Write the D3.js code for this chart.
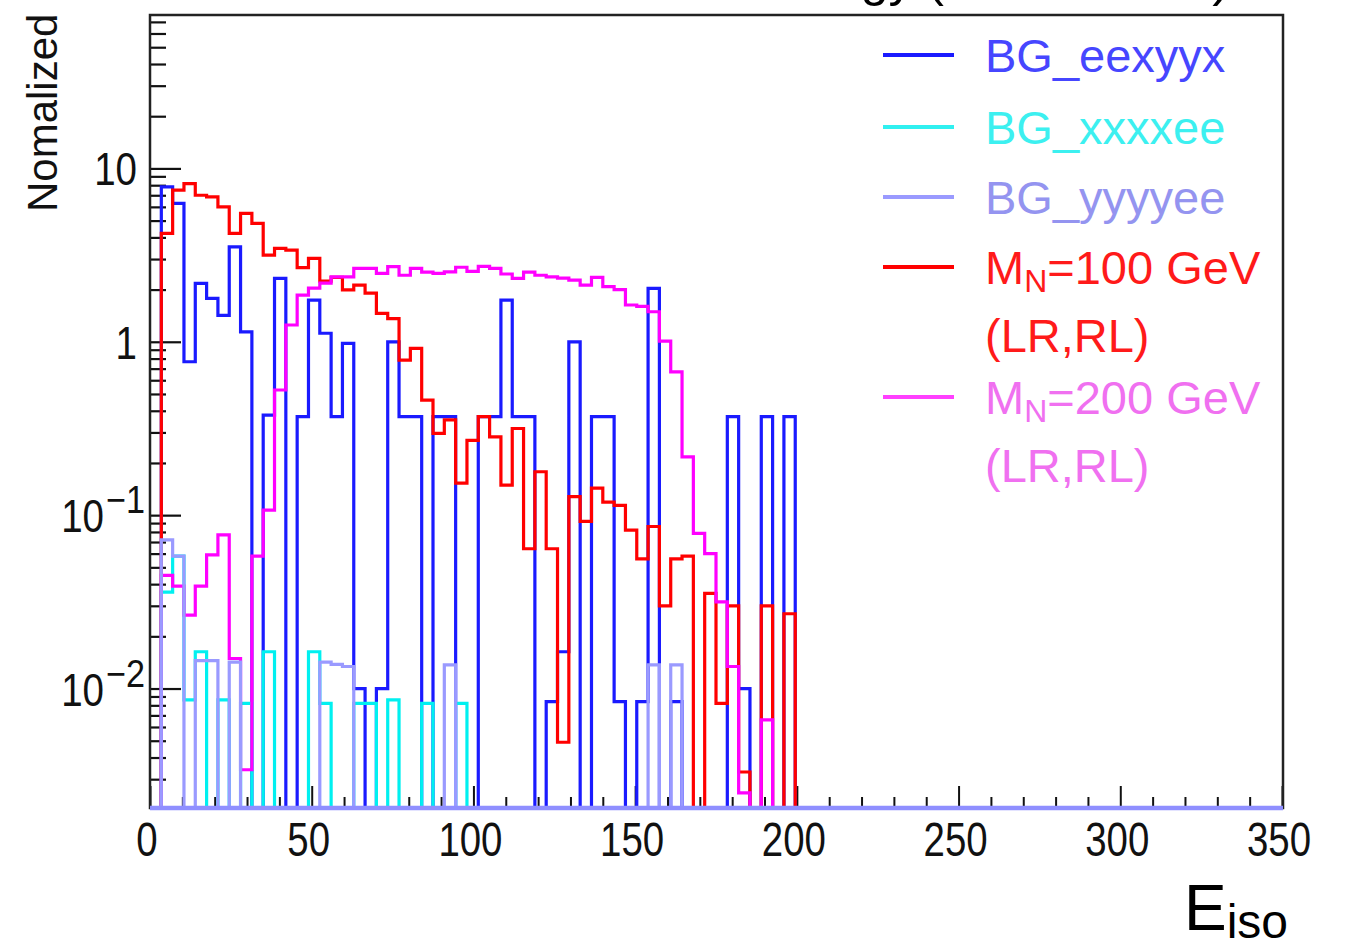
<!DOCTYPE html>
<html><head><meta charset="utf-8">
<script src="https://cdn.jsdelivr.net/npm/d3@7/dist/d3.min.js"></script>
<style>
body{margin:0;background:#fff;}
svg{display:block;}
text{font-family:"Liberation Sans",Arial,Helvetica,sans-serif;}
</style>
</head><body>
<svg id="c" width="1350" height="947"></svg>
<script>
// ---- data (bin contents, 3.5-wide bins starting at 0; missing bins are empty) ----
const xTickLabels = ["0","50","100","150","200","250","300","350"];
const xTickValues = [0,50,100,150,200,250,300,350];
const yMajorTicks = [0.01,0.1,1,10];
const yTickLabels = [["10","−2"],["10","−1"],["1",""],["10",""]];

const bgEexyyx = [0,7.83,6.28,0.767,2.17,1.78,1.42,3.53,1.14,0,
  0.378,2.32,0,0.37,1.74,1.12,0.37,0.98,0.01,0,
  0.01,1.0,0.37,0.37,0,0.37,0.37,0,0,0.37,
  0.37,1.74,0.37,0.37,0,0.0084,0.0163,1.0,0,0.37,
  0.37,0.0084,0,0.0084,2.03,0,0.0084,0,0,0,
  0,0.37,0.01,0,0.37,0,0.37];
const bgXxxxee = [0,0.036,0.058,0.0086,0.0163,0,0.0086,0,0.0082,0,
  0.0163,0,0,0,0.0163,0.0082,0,0,0.0082,0.0082,
  0,0.0086,0,0,0.0082,0,0,0.0082];
const bgYyyyee = [0,0.072,0.058,0,0.0145,0.0145,0,0.0142,0,0,
  0,0,0,0,0,0.0142,0.0138,0.0134,0,0,
  0,0,0,0,0,0,0.0137,0,0,0,
  0,0,0,0,0,0,0,0,0,0,
  0,0,0,0,0.0137,0,0.0137];
const sigMN100 = [0,4.22,7.5,8.18,7.0,6.85,6.0,4.22,5.5,4.82,
  3.16,3.46,3.38,2.68,3.03,2.24,2.35,1.99,2.12,1.91,
  1.46,1.36,0.784,0.916,0.461,0.296,0.354,0.153,0.27,0.37,
  0.283,0.149,0.316,0.064,0.178,0.064,0.0049,0.128,0.092,0.143,
  0.119,0.114,0.082,0.056,0.086,0.030,0.056,0.058,0,0.0354,
  0.0082,0.030,0.0033,0,0.030,0,0.027];
const sigMN200 = [0,0.045,0.039,0.0265,0.039,0.059,0.077,0.0149,0.0034,0.058,
  0.107,0.527,1.25,1.86,2.04,2.18,2.37,2.37,2.65,2.65,
  2.48,2.71,2.42,2.65,2.52,2.48,2.53,2.69,2.55,2.72,
  2.65,2.46,2.32,2.52,2.42,2.37,2.33,2.27,2.12,2.35,
  2.08,2.0,1.63,1.6,1.49,1.01,0.67,0.217,0.0785,0.060,
  0.0316,0.0134,0.0025,0,0.0066];

const nBins = 100, binW = 3.5;

// ---- layout ----
const svg = d3.select("#c");
const L=150, R=1283, T=15, B=808;
const yMin = 0.002046, yMax = 76.7;
const x = d3.scaleLinear().domain([0,350]).range([L,R-1]);
const y = d3.scaleLog().domain([yMin,yMax]).range([B,T]);

svg.append("defs").append("clipPath").attr("id","clip")
  .append("rect").attr("x",L).attr("y",T).attr("width",R-L).attr("height",B-T+4);

// ---- axes ticks (inside, ROOT style) ----
const minorY = [];
[0.001,0.01,0.1,1,10].forEach(d=>{for(let k=2;k<=9;k++){const v=d*k; if(v>yMin&&v<yMax) minorY.push(v);}});
const gy = svg.append("g").attr("transform",`translate(${L},0)`);
gy.call(d3.axisLeft(y).tickValues(yMajorTicks).tickSize(-31).tickFormat(""));
gy.call(g=>g.append("g").call(d3.axisLeft(y).tickValues(minorY).tickSize(-16).tickFormat("")));
gy.selectAll(".domain").remove();
gy.selectAll("line").attr("stroke","#111").attr("stroke-width",2.2);

const minorX = d3.range(10,350,10).filter(v=>v%50!==0);
const gx = svg.append("g").attr("transform",`translate(0,${B})`);
gx.call(d3.axisBottom(x).tickValues(xTickValues).tickSize(-22).tickFormat(""));
gx.call(g=>g.append("g").call(d3.axisBottom(x).tickValues(minorX).tickSize(-11).tickFormat("")));
gx.selectAll(".domain").remove();
gx.selectAll("line").attr("stroke","#111").attr("stroke-width",2);

// frame
svg.append("rect").attr("x",L).attr("y",T).attr("width",R-L).attr("height",B-T)
  .attr("fill","none").attr("stroke","#222").attr("stroke-width",2.5);

// ---- histograms ----
function stepPts(vals){
  const pts=[[0,yMin]];
  for(let i=0;i<nBins;i++){
    const v=(i<vals.length && vals[i]>yMin)?vals[i]:yMin;
    pts.push([i*binW,v],[(i+1)*binW,v]);
  }
  pts.push([nBins*binW,yMin]);
  return pts;
}
const line = d3.line().x(d=>x(d[0])).y(d=>y(d[1]));
const series = [
  {vals:bgEexyyx, color:"#1a1aff"},
  {vals:bgXxxxee, color:"#00f0f0"},
  {vals:sigMN100, color:"#ff0000"},
  {vals:sigMN200, color:"#ff00ff"},
  {vals:bgYyyyee, color:"#9a9aff"}
];
const gh = svg.append("g").attr("clip-path","url(#clip)");
series.forEach(s=>{
  gh.append("path").attr("d",line(stepPts(s.vals))).attr("fill","none")
    .attr("stroke",s.color).attr("stroke-width",3.2).attr("stroke-linejoin","miter");
});
// bottom band (zero bins of all histograms coincide on the frame)
gh.append("line").attr("x1",L).attr("x2",R).attr("y1",B).attr("y2",B)
  .attr("stroke","#8f8fff").attr("stroke-width",4.5);

// ---- tick labels ----
const xl = svg.append("g");
xTickValues.forEach((v,i)=>{
  xl.append("text").attr("transform",`translate(${x(v)-3},856) scale(0.8,1)`)
    .attr("text-anchor","middle").attr("font-size",48).attr("fill","#111").text(xTickLabels[i]);
});
const yl = svg.append("g");
yMajorTicks.forEach((v,i)=>{
  const [base,exp]=yTickLabels[i];
  const yy=y(v)+17;
  if(exp===""){
    yl.append("text").attr("transform",`translate(137,${yy}) scale(0.82,1)`)
      .attr("text-anchor","end").attr("font-size",47).attr("fill","#111").text(base);
  } else {
    yl.append("text").attr("transform",`translate(104,${yy}) scale(0.82,1)`)
      .attr("text-anchor","end").attr("font-size",47).attr("fill","#111").text(base);
    yl.append("text").attr("transform",`translate(106,${yy-19}) scale(0.9,1)`)
      .attr("text-anchor","start").attr("font-size",38).attr("fill","#111").text(exp);
  }
});

// axis titles
svg.append("text").attr("transform","translate(57,212) rotate(-90)")
  .attr("font-size",42).attr("fill","#111").text("Nomalized");
const xt = svg.append("text").attr("x",1184).attr("y",930).attr("fill","#000");
xt.append("tspan").attr("font-size",64).text("E");
xt.append("tspan").attr("font-size",48).attr("dy",8).text("iso");

// title (cut off by the top edge in the original picture)
const tt = svg.append("g");
tt.append("text").attr("x",944).attr("y",-4).attr("text-anchor","end")
  .attr("font-size",50).attr("fill","#000").text("Isolated Energy (");
tt.append("text").attr("x",944).attr("y",-4).attr("textLength",286).attr("lengthAdjust","spacingAndGlyphs")
  .attr("font-size",50).attr("fill","#000").text("Normalized)");

// ---- legend ----
const legend = [
  {label:["BG_eexyyx"], color:"#1a1aff", text:"#4646ff", y:55},
  {label:["BG_xxxxee"], color:"#30f0f0", text:"#3cf0f0", y:127},
  {label:["BG_yyyyee"], color:"#9a9aff", text:"#9494f0", y:197},
  {label:["M","N","=100 GeV"], color:"#ff0000", text:"#ff1a1a", y:267, sub:"(LR,RL)"},
  {label:["M","N","=200 GeV"], color:"#ff40ff", text:"#f070f0", y:397, sub:"(LR,RL)"}
];
const lg = svg.append("g");
legend.forEach(d=>{
  lg.append("line").attr("x1",883).attr("x2",954).attr("y1",d.y).attr("y2",d.y)
    .attr("stroke",d.color).attr("stroke-width",4);
  const t = lg.append("text").attr("x",985).attr("y",d.y+17).attr("font-size",47).attr("fill",d.text);
  if(d.label.length===1){ t.text(d.label[0]); }
  else {
    t.append("tspan").text(d.label[0]);
    t.append("tspan").attr("font-size",32).attr("dy",8).text(d.label[1]);
    t.append("tspan").attr("dy",-8).text(d.label[2]);
  }
  if(d.sub){
    lg.append("text").attr("x",985).attr("y",d.y+85).attr("font-size",47).attr("fill",d.text).text(d.sub);
  }
});
</script>
</body></html>
